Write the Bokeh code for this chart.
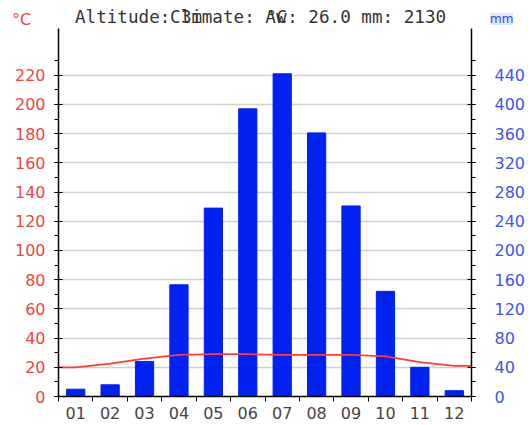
from bokeh.plotting import figure
from bokeh.layouts import column
from bokeh.models import (Range1d, LinearAxis, FixedTicker, CustomJSTickFormatter, Div)
from bokeh.embed import file_html
from bokeh.resources import INLINE

months = ["01", "02", "03", "04", "05", "06", "07", "08", "09", "10", "11", "12"]
precip_mm = [10, 16, 48, 153, 258, 394, 442, 361, 261, 144, 40, 8]
temp_c = [20.0, 22.5, 26.0, 28.5, 29.0, 29.0, 28.5, 28.5, 28.5, 27.5, 23.5, 21.0]
title_parts = ["Altitude: 3m", "Climate: Aw", "°C: 26.0 mm: 2130"]
c_ticks = list(range(0, 221, 20))
c_minor = list(range(0, 231, 10))
mm_ticks = list(range(0, 441, 40))
mm_minor = list(range(0, 461, 20))

centers = [i + 0.5 for i in range(len(months))]
Y_MAX = 252
W = 528
HEAD_H = 28

# ---------- header strip (texts overlap as in the original) ----------
char_w = 10.6
spans = []
for i, txt in enumerate(title_parts):
    spans.append(
        '<span style="position:absolute;left:%dpx;top:9px;white-space:pre;line-height:1;'
        'font-family:\'DejaVu Sans Mono\';font-size:17.6px;color:#333333;">%s</span>'
        % (round(75 + i * 9 * char_w), txt))
spans.append('<span style="position:absolute;left:12px;top:12px;line-height:1;'
             'font-family:\'DejaVu Sans\';font-size:16px;color:#ee4444;">°C</span>')
spans.append('<span style="position:absolute;left:490px;top:13px;line-height:1;'
             'font-family:\'DejaVu Sans\';font-size:12px;color:#3344ee;'
             'background:#dfe6ff;">mm</span>')
header = Div(text='<div style="position:relative;width:%dpx;height:%dpx;">%s</div>'
             % (W, HEAD_H, "".join(spans)), width=W, height=HEAD_H, margin=0)

# ---------- chart ----------
p = figure(width=W, height=425 - HEAD_H, output_backend="svg", toolbar_location=None,
           x_range=Range1d(0, 12), y_range=Range1d(0, Y_MAX),
           min_border_left=58, min_border_right=56, min_border_top=0,
           min_border_bottom=29)
p.outline_line_color = None
p.extra_y_ranges = {"mm": Range1d(0, 2 * Y_MAX)}

xax = p.xaxis[0]
xax.ticker = FixedTicker(ticks=centers, minor_ticks=list(range(13)))
xax.formatter = CustomJSTickFormatter(args=dict(labels=months),
                                      code="return labels[Math.floor(tick)];")
xax.major_tick_in = 0
xax.major_tick_out = 0
xax.minor_tick_in = 0
xax.minor_tick_out = 5
xax.axis_line_width = 1.5
xax.major_label_standoff = 5
xax.major_label_text_font = "DejaVu Sans"
xax.major_label_text_font_size = "16px"
xax.major_label_text_color = "#444444"
p.xgrid.visible = False

yax = p.yaxis[0]
yax.ticker = FixedTicker(ticks=c_ticks, minor_ticks=c_minor)
yax.major_tick_in = 4
yax.major_tick_out = 4
yax.minor_tick_in = 0
yax.minor_tick_out = 4
yax.axis_line_width = 1.5
yax.major_label_standoff = 9
yax.major_label_text_font = "DejaVu Sans"
yax.major_label_text_font_size = "16px"
yax.major_label_text_color = "#ee4444"
p.ygrid.ticker = FixedTicker(ticks=c_ticks)
p.ygrid.grid_line_color = "#cfcfcf"
p.ygrid.grid_line_width = 1.3

rax = LinearAxis(y_range_name="mm", ticker=FixedTicker(ticks=mm_ticks, minor_ticks=mm_minor))
rax.major_tick_in = 4
rax.major_tick_out = 4
rax.minor_tick_in = 0
rax.minor_tick_out = 4
rax.axis_line_width = 1.5
rax.major_label_standoff = 19
rax.major_label_text_font = "DejaVu Sans"
rax.major_label_text_font_size = "16px"
rax.major_label_text_color = "#3d55ee"
p.add_layout(rax, "right")

p.vbar(x=centers, top=precip_mm, width=0.53, y_range_name="mm",
       fill_color="#0022f0", line_color="#0022f0")

xs = [0] + centers + [12]
ys = [temp_c[0]] + temp_c + [temp_c[-1]]
p.line(xs, ys, line_color="#ff3b3b", line_width=1.8)

layout = column(header, p, spacing=0)
open("out.html", "w").write(file_html(layout, INLINE))
